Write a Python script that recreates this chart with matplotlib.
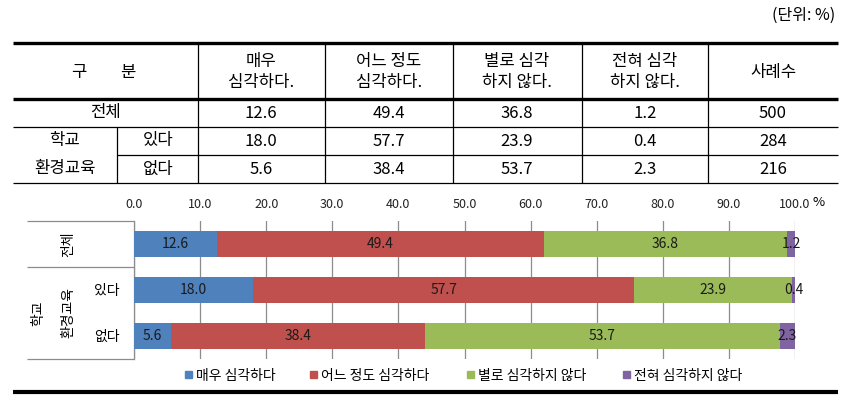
import matplotlib
matplotlib.use("Agg")
import matplotlib.pyplot as plt
from matplotlib.lines import Line2D
from matplotlib.patches import Rectangle

plt.rcParams['font.family'] = ['Noto Sans CJK KR', 'DejaVu Sans']

# ---- data ----
categories = ["전체", "있다", "없다"]
series_names = ["매우 심각하다", "어느 정도 심각하다", "별로 심각하지 않다", "전혀 심각하지 않다"]
very = [12.6, 18.0, 5.6]
somewhat = [49.4, 57.7, 38.4]
notmuch = [36.8, 23.9, 53.7]
notatall = [1.2, 0.4, 2.3]
counts = [500, 284, 216]
header_cols = ["매우\n심각하다.", "어느 정도\n심각하다.", "별로 심각\n하지 않다.", "전혀 심각\n하지 않다.", "사례수"]
xticks = [0, 10, 20, 30, 40, 50, 60, 70, 80, 90, 100]
colors = ["#4F81BD", "#C0504D", "#9BBB59", "#8064A2"]

W, H = 858, 400
fig = plt.figure(figsize=(W / 100, H / 100), dpi=100)


def fx(x):
    return x / W


def fy(y):
    return 1 - y / H


def hline(y, x0, x1, lw=1.0, color="black"):
    fig.add_artist(Line2D([fx(x0), fx(x1)], [fy(y), fy(y)], lw=lw, color=color,
                          transform=fig.transFigure, solid_capstyle="butt"))


def vline(x, y0, y1, lw=1.0, color="black"):
    fig.add_artist(Line2D([fx(x), fx(x)], [fy(y0), fy(y1)], lw=lw, color=color,
                          transform=fig.transFigure, solid_capstyle="butt"))


def txt(x, y, s, size=12, ha="center", va="center", **kw):
    fig.text(fx(x), fy(y), s, fontsize=size, ha=ha, va=va, **kw)


# ---- unit ----
txt(835, 15, "(단위: %)", size=11.5, ha="right")

# ---- table ----
L, R = 13, 838
hline(43, L, R, lw=2.4)
hline(99, L, R, lw=2.4)
hline(127, L, R, lw=0.9)
hline(155, 117, R, lw=0.9)
hline(183, L, R, lw=0.9)
col_x = [198, 325, 453, 582, 708]
for cx in col_x:
    vline(cx, 43, 183, lw=0.9)
vline(117, 127, 183, lw=0.9)

col_centers = [261, 389, 517, 645, 773]
txt(79, 72, "구", size=12)
txt(128, 72, "분", size=12)
for cx, h in zip(col_centers, header_cols):
    txt(cx, 72, h, size=12, linespacing=1.35)

row_y = [113, 141, 169]
txt(105, row_y[0], "전체", size=12)
txt(65, row_y[1], "학교", size=12)
txt(65, row_y[2], "환경교육", size=12)
txt(158, row_y[1], "있다", size=12)
txt(158, row_y[2], "없다", size=12)
for i in range(3):
    vals = [very[i], somewhat[i], notmuch[i], notatall[i]]
    for cx, v in zip(col_centers[:4], vals):
        txt(cx, row_y[i], f"{v:.1f}", size=12)
    txt(col_centers[4], row_y[i], f"{counts[i]}", size=12)

# ---- chart ----
ax_l, ax_r, ax_t, ax_b = 134, 795, 221, 359
ax = fig.add_axes([fx(ax_l), fy(ax_b), fx(ax_r - ax_l), (ax_b - ax_t) / H])
ypos = [0, 1, 2]
bh = 0.57
left = [0, 0, 0]
for vals, col in zip([very, somewhat, notmuch, notatall], colors):
    ax.barh(ypos, vals, left=left, height=bh, color=col, zorder=3)
    for y, v, l in zip(ypos, vals, left):
        ax.text(l + v / 2, y, f"{v:.1f}", ha="center", va="center", fontsize=10,
                color="#1a1a1a", zorder=4)
    left = [a + b for a, b in zip(left, vals)]

ax.set_xlim(0, 100)
ax.set_ylim(2.5, -0.5)
ax.set_xticks(xticks)
ax.set_xticklabels([f"{t:.1f}" for t in xticks], fontsize=9, color="#222222")
ax.xaxis.tick_top()
ax.tick_params(axis="x", length=0, pad=7.5)
ax.set_yticks([])
ax.grid(axis="x", color="#8c8c8c", lw=0.9, zorder=0)
for s in ["top", "right", "bottom"]:
    ax.spines[s].set_visible(False)
ax.spines["left"].set_color("#8c8c8c")
ax.spines["left"].set_linewidth(0.9)
ax.set_facecolor("none")
txt(819, 203, "%", size=9.5)

# left category box
gray = "#8c8c8c"
hline(221, 27, 134, lw=0.9, color=gray)
hline(267, 27, 134, lw=0.9, color=gray)
hline(359, 27, 134, lw=0.9, color=gray)
txt(68, 244, "전체", size=10, rotation=90)
txt(38, 313, "학교", size=10, rotation=90)
txt(68, 313, "환경교육", size=10, rotation=90)
txt(107, 291, "있다", size=10)
txt(107, 337, "없다", size=10)

# legend
leg_x = [185, 310, 467, 623]
for x, col, name in zip(leg_x, colors, series_names):
    fig.add_artist(Rectangle((fx(x), fy(378)), fx(7), 7 / H, color=col,
                             transform=fig.transFigure))
    txt(x + 11, 376, name, size=10, ha="left")

# bottom thick line
hline(392, L, R, lw=3.0)

fig.savefig("out.png", dpi=100)
